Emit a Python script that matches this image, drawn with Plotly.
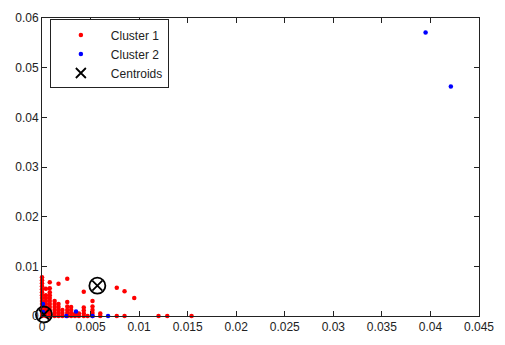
import plotly.graph_objects as go

# Cluster 1 (red)
c1_x = [0, 0, 0, 0, 0, 0, 0, 0, 0, 0, 0, 0, 0, 0,
        0.0004, 0.0004, 0.0004, 0.0004, 0.0004, 0.0004, 0.0004, 0.0004, 0.0004,
        0.0008, 0.0008, 0.0008, 0.0008, 0.0008, 0.0008, 0.0008, 0.0008, 0.0008, 0.0008, 0.0008,
        0.0013, 0.0013, 0.0013, 0.0013, 0.0013, 0.0013,
        0.0017, 0.0017, 0.0017, 0.0017, 0.0017, 0.0017,
        0.0021, 0.0021, 0.0021,
        0.0026, 0.0026, 0.0026, 0.0026, 0.0026, 0.0026,
        0.0030, 0.0030, 0.0030, 0.0030,
        0.0034, 0.0034, 0.0038, 0.0038,
        0.0043, 0.0043, 0.0043, 0.0043, 0.0043,
        0.0047,
        0.0052, 0.0052, 0.0052, 0.0052, 0.0052,
        0.0060, 0.0060,
        0.0077, 0.0077, 0.0085, 0.0085, 0.0095,
        0.0120, 0.0129, 0.0154]
c1_y = [0, 0.0006, 0.0012, 0.0018, 0.0024, 0.0030, 0.0036, 0.0042, 0.0048, 0.0054, 0.0060, 0.0066, 0.0072, 0.0078,
        0, 0.0006, 0.0012, 0.0018, 0.0024, 0.0030, 0.0036, 0.0042, 0.0055,
        0, 0.0006, 0.0012, 0.0018, 0.0024, 0.0030, 0.0036, 0.0042, 0.0048, 0.0056, 0.0068,
        0, 0.0006, 0.0012, 0.0018, 0.0024, 0.0030,
        0, 0.0006, 0.0012, 0.0018, 0.0024, 0.0065,
        0, 0.0006, 0.0012,
        0, 0.0006, 0.0012, 0.0019, 0.0028, 0.0075,
        0, 0.0006, 0.0012, 0.0018,
        0, 0.0004, 0, 0.0005,
        0, 0.0005, 0.0011, 0.0017, 0.0049,
        0,
        0, 0.0006, 0.0012, 0.0019, 0.0030,
        0, 0.0005,
        0, 0.0057, 0, 0.0050, 0.0036,
        0, 0, 0]

# Cluster 2 (blue)
c2_x = [0.0001, 0.0001, 0.0035, 0.0025, 0.0052, 0.0068, 0.0395, 0.0421]
c2_y = [0.0024, 0.0008, 0.0009, 0, 0, 0, 0.0571, 0.0462]

# Centroids
cen_x = [0.0057, 0.0002]
cen_y = [0.0061, 0.0003]

x_ticks = [0, 0.005, 0.01, 0.015, 0.02, 0.025, 0.03, 0.035, 0.04, 0.045]
x_labels = ["0", "0.005", "0.01", "0.015", "0.02", "0.025", "0.03", "0.035", "0.04", "0.045"]
y_ticks = [0, 0.01, 0.02, 0.03, 0.04, 0.05, 0.06]
y_labels = ["0", "0.01", "0.02", "0.03", "0.04", "0.05", "0.06"]

fig = go.Figure()
fig.add_trace(go.Scatter(x=c1_x, y=c1_y, mode="markers", name="Cluster 1",
                         marker=dict(color="#ff0000", size=4.5, symbol="circle"),
                         cliponaxis=False))
fig.add_trace(go.Scatter(x=c2_x, y=c2_y, mode="markers", name="Cluster 2",
                         marker=dict(color="#0000ff", size=4.5, symbol="circle"),
                         cliponaxis=False))
fig.add_trace(go.Scatter(x=cen_x, y=cen_y, mode="markers", name="Centroids",
                         marker=dict(color="black", size=10, symbol="x-thin-open",
                                     line=dict(color="black", width=1.8)),
                         cliponaxis=False))
fig.add_trace(go.Scatter(x=cen_x, y=cen_y, mode="markers", showlegend=False,
                         marker=dict(color="black", size=16, symbol="circle-open",
                                     line=dict(color="black", width=1.8)),
                         cliponaxis=False, hoverinfo="skip"))

axis_common = dict(showgrid=False, zeroline=False, showline=True, linecolor="#222",
                   linewidth=1, mirror="allticks", ticks="inside", ticklen=5,
                   tickcolor="#222", tickfont=dict(family="Liberation Sans", size=12, color="#222"))

fig.update_layout(
    width=505, height=345,
    margin=dict(l=42, r=16, t=11, b=21),
    paper_bgcolor="white", plot_bgcolor="white",
    xaxis=dict(range=[0, 0.045], tickvals=x_ticks, ticktext=x_labels, **axis_common),
    yaxis=dict(range=[0, 0.06], tickvals=y_ticks, ticktext=y_labels, **axis_common),
    legend=dict(x=0.018, y=0.995, xanchor="left", yanchor="top",
                bgcolor="white", bordercolor="#222", borderwidth=1,
                font=dict(family="Liberation Sans", size=12, color="#222"),
                itemwidth=50),
    showlegend=True,
)

fig.write_html("out.html")
